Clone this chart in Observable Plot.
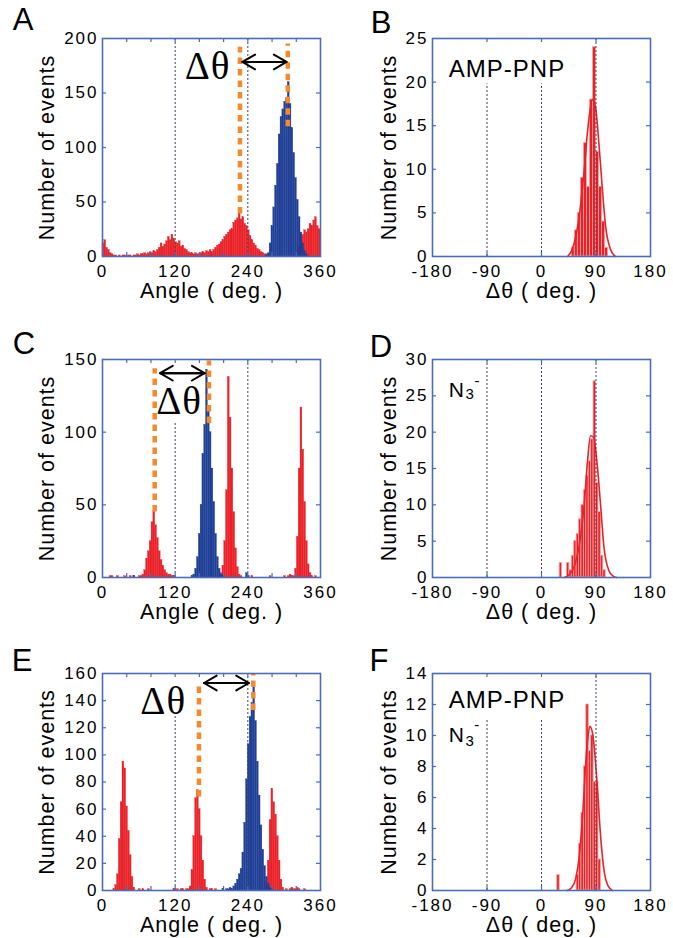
<!DOCTYPE html>
<html><head><meta charset="utf-8">
<script src="https://cdn.jsdelivr.net/npm/d3@7"></script>
<script src="https://cdn.jsdelivr.net/npm/@observablehq/plot@0.6"></script>
<style>
body{margin:0;background:#fff;}
#fig{position:relative;width:673px;height:938px;overflow:hidden;background:#fff;}
#fig > div{position:absolute;}
#fig svg text{letter-spacing:1px;}
#fig svg g[aria-label$="tick label"] text{letter-spacing:2px;}
</style></head><body><div id="fig"></div>
<script>
const RED = "#ea2228", BLUE = "#1f3f97", ORANGE = "#f5892c", FRAME = "#4b6cb7", DOT = "#3b4263";
const SANS = '"Liberation Sans", Arial, Helvetica, sans-serif';
const SERIF = '"Liberation Serif", "Times New Roman", serif';

// ---- angle histograms (3-degree bins, starting at 0) ----
const angleBin = 3;
const angleTicks = [0, 120, 240, 360];
const angleMinor = [40, 80, 120, 160, 200, 240, 280, 320];

const redA = [
 12,15,8,6,3,2,1,1,0,1,
 0,1,1,0,1,1,0,1,1,2,
 1,2,2,3,2,3,4,3,5,4,
 6,8,12,9,11,14,18,15,20,16,
 13,12,14,9,10,7,6,4,3,3,
 2,3,2,2,3,4,3,5,4,6,
 4,6,8,10,11,13,15,18,20,22,
 24,25,31,33,35,44,34,36,30,28,
 24,19,15,12,10,7,6,4,3,2,
 2,1,1,1,0,0,0,0,0,0,
 0,0,0,0,0,0,2,5,10,15,
 20,24,22,25,30,28,33,36,28,25];
const blueA = [
 0,0,0,0,0,0,0,0,0,0, 0,0,0,0,0,0,0,0,0,0, 0,0,0,0,0,0,0,0,0,0,
 0,0,0,0,0,0,0,0,0,0, 0,0,0,0,0,0,0,0,0,0, 0,0,0,0,0,0,0,0,0,0,
 0,0,0,0,0,0,0,0,0,0, 0,0,0,0,0,0,0,0,0,0, 0,0,0,0,0,0,0,0,0,0,
 1,3,12,28,45,65,85,112,128,135,
 142,145,160,140,118,95,72,52,36,22,
 12,5,2,0,0,0,0,0,0,0];

const redC = [
 0,0,0,0,1,1,0,0,1,0,
 0,0,1,0,0,1,0,1,0,0,
 1,1,2,5,13,18,25,38,46,36,
 27,18,12,8,5,3,2,2,1,1,
 0,0,0,0,0,0,0,0,0,0,
 0,0,0,0,0,0,0,0,0,0,
 0,0,0,0,1,3,8,25,60,138,
 110,75,45,20,7,2,1,0,0,0,
 0,0,1,0,0,0,0,0,0,0,
 0,0,1,0,0,0,0,0,0,0,
 1,0,1,2,1,1,6,28,75,117,
 88,52,25,9,3,1,0,1,0,0];
const blueC = [
 0,0,0,0,0,0,0,0,0,0,
 0,0,0,0,0,0,0,1,0,0,
 0,0,0,0,0,0,0,0,0,0,
 0,0,0,0,0,0,0,0,0,0,
 0,0,0,0,0,0,0,0,0,1,
 2,6,14,30,50,85,105,143,118,100,
 75,52,30,14,6,2,1,0,0,0,
 0,0,0,0,0,0,0,0,0,3,
 1,0,0,0,0,0,0,0,0,0,
 0,0,0,0,0,0,0,0,0,0,
 0,0,0,0,0,0,0,0,0,0,
 0,0,0,0,0,0,0,0,0,0];

const redE = [
 0,0,0,0,0,0,1,4,12,38,
 65,95,90,62,44,26,10,2,0,0,
 1,0,1,0,0,1,0,0,0,0,
 0,0,0,0,0,0,0,0,0,1,
 0,1,0,1,1,0,1,1,3,15,
 40,68,74,60,40,22,8,2,0,1,
 1,0,1,0,0,0,0,0,0,0,
 0,0,0,0,0,0,0,0,0,0,
 0,0,0,0,0,0,0,0,0,2,
 6,22,52,75,65,56,40,22,8,2,
 0,1,0,1,2,1,1,2,1,0,
 0,1,0,0,0,0,0,0,0,0];
const blueE = [
 0,0,0,0,0,0,0,0,0,0, 0,0,0,0,0,0,0,0,0,0, 0,0,0,0,0,0,0,0,0,0,
 0,0,0,0,0,0,0,0,0,0, 0,0,0,0,0,0,0,0,0,0, 0,0,0,0,0,0,0,0,0,0,
 0,0,0,0,0,0,1,0,1,1,
 2,1,3,5,8,12,16,28,50,82,
 108,128,138,150,125,95,70,48,30,18,
 10,5,2,1,0,0,0,0,0,0,
 0,0,0,0,0,0,0,0,0,0,
 0,0,0,0,0,0,0,0,0,0];

// ---- delta-theta histograms ----
const deltaTicks = [-180, -90, 0, 90, 180];
const deltaMinor = [-90, 0, 90];
const histBStart = 50, histBBin = 5;
const histB = [1,3,5,9,13,8,18,24,12,8,4,1];
const histDStart = 30, histDBin = 4;
const histD = [2,0,0,2,1,3,5,6,8,10,12,14,16,19,27,13,9,3,1];
const histFStart = 26, histFBin = 4;
const histF = [1,0,0,0,0,0,0,0,1,3,5,8,12,9,10,7,7,2];

// Gaussian fit curves
const fitB = [[43,0],[50,0.7],[55,1.8],[62,4.5],[70,9.5],[77,15],[84,18],[89,17.2],[95,12.8],[100,8.2],[106,3.4],[114,0.8],[122,0]];
const fitD = [[38,0],[46,0.4],[54,1.5],[62,4.3],[70,9.6],[76,16],[81,19.5],[86,19.3],[92,15.5],[98,9.5],[103,4.3],[111,1],[118,0.2],[124,0]];
const fitF = [[42,0],[50,0.2],[56,0.7],[62,2.1],[68,4.9],[73,8.2],[77,10],[80,10.6],[84,10.2],[87,9.3],[92,6.8],[98,3.3],[104,1.1],[110,0.3],[117,0]];

// ---- y ticks ----
const yTicksA = [0,50,100,150,200];
const yTicksB = [0,5,10,15,20,25];
const yTicksC = [0,50,100,150];
const yTicksD = [0,5,10,15,20,25,30];
const yTicksE = [0,20,40,60,80,100,120,140,160];
const yTicksF = [0,2,4,6,8,10,12,14];

// ---- reference lines and annotations ----
const dottedA = [{x:120, top:200}, {x:240, top:200}];
const dottedC = [{x:120, top:106}, {x:240, top:150}];
const dottedE = [{x:120, top:129}, {x:240, top:160}];
const dottedB = [{x:-90, top:19.8}, {x:0, top:19.8}, {x:90, top:25}];
const dottedD = [{x:-90, top:30}, {x:0, top:30}, {x:90, top:30}];
const dottedF = [{x:-90, top:11.1}, {x:0, top:11.1}, {x:90, top:14}];

const orangeA = [{x:227, y1:39, y2:192}, {x:306, y1:119, y2:195}];
const orangeC = [{x:86.2, y1:45, y2:143.6}, {x:175.8, y1:106, y2:149}];
const orangeE = [{x:159.3, y1:69, y2:153.6}, {x:249, y1:132.7, y2:159.8}];
const arrowA = [{x1:231, x2:304, y:178.5}];
const arrowC = [{x1:95, x2:168.7, y:140.6}];
const arrowE = [{x1:167.6, x2:241.8, y:153}];

const labelsA = [{x:173.6, y:163, t:"Δθ", size:39, serif:true, anchor:"middle"}];
const labelsC = [{x:126.4, y:112.6, t:"Δθ", size:39, serif:true, anchor:"middle"}];
const labelsE = [{x:100.3, y:130.3, t:"Δθ", size:39, serif:true, anchor:"middle"}];
const labelsB = [{x:-153, y:20.56, t:"AMP-PNP", size:24, anchor:"start"}];
const labelsD = [
  {x:-153, y:24.9, t:"N", size:21, anchor:"start"},
  {x:-125.3, y:24.6, t:"3", size:15, anchor:"start"},
  {x:-110.5, y:26.3, t:"-", size:15, anchor:"start"}];
const labelsF = [
  {x:-153, y:11.79, t:"AMP-PNP", size:24, anchor:"start"},
  {x:-153, y:9.57, t:"N", size:21, anchor:"start"},
  {x:-125.3, y:9.35, t:"3", size:15, anchor:"start"},
  {x:-111, y:10.35, t:"-", size:15, anchor:"start"}];

function histRows(start, bin, counts) {
  return counts.map((c, i) => ({x1: start + i * bin, x2: start + (i + 1) * bin, y: c})).filter(d => d.y > 0);
}

function build(p) {
  const innerW = p.w - p.ml - p.mr;
  const innerH = p.h - p.mt - p.mb;
  const marks = [];
  p.hists.forEach(h => marks.push(Plot.rectY(histRows(h.start, h.bin, h.counts),
    {x1: "x1", x2: "x2", y: "y", fill: h.fill, stroke: h.stroke, strokeWidth: h.sw})));
  if (p.curve) marks.push(Plot.line(p.curve, {x: d => d[0], y: d => d[1], stroke: RED, strokeWidth: 1.6, curve: "monotone-x"}));
  marks.push(Plot.ruleX(p.dotted, {x: "x", y1: 0, y2: "top", stroke: DOT, strokeWidth: 1, strokeDasharray: "2,2"}));
  if (p.orange) marks.push(Plot.ruleX(p.orange, {x: "x", y1: "y1", y2: "y2", stroke: ORANGE, strokeWidth: 4.5, strokeDasharray: "6.5,5"}));
  if (p.arrow) {
    marks.push(Plot.arrow(p.arrow, {x1: "x1", x2: "x2", y1: "y", y2: "y", stroke: "black", strokeWidth: 2, headLength: 11}));
    marks.push(Plot.arrow(p.arrow, {x1: "x2", x2: "x1", y1: "y", y2: "y", stroke: "black", strokeWidth: 2, headLength: 11}));
  }
  p.labels.forEach(L => marks.push(Plot.text([L], {x: "x", y: "y", text: "t", fontSize: L.size,
    fontFamily: L.serif ? SERIF : SANS, textAnchor: L.anchor, lineAnchor: "bottom", fill: "black"})));
  marks.push(Plot.frame({stroke: FRAME, strokeWidth: 1.6}));
  const tk = {stroke: FRAME, strokeWidth: 1.2};
  marks.push(Plot.tickX(p.xMinor, {x: d => d, ...tk, insetTop: innerH - 4}));
  marks.push(Plot.tickX(p.xMinor, {x: d => d, ...tk, insetBottom: innerH - 4}));
  marks.push(Plot.tickY(p.yMinor, {y: d => d, ...tk, insetRight: innerW - 4}));
  marks.push(Plot.tickY(p.yMinor, {y: d => d, ...tk, insetLeft: innerW - 4}));
  marks.push(Plot.axisX(p.xTicks, {tickSize: 0, tickPadding: 8, fontSize: 17, label: null, tickFormat: d => String(d)}));
  marks.push(Plot.axisY(p.yTicks, {tickSize: 0, tickPadding: 4, fontSize: 17, label: null, tickFormat: d => String(d)}));
  marks.push(Plot.text([p.xLabel], {text: d => d, frameAnchor: "bottom", dy: 35, fontSize: 21.5, textAnchor: "middle", lineAnchor: "middle"}));
  marks.push(Plot.text([p.yLabel], {text: d => d, frameAnchor: "left", dx: p.yLabelDx, rotate: -90, fontSize: 21.5, textAnchor: "middle", lineAnchor: "middle"}));
  marks.push(Plot.text([p.letter], {text: d => d, frameAnchor: "top-left", dx: p.letterDx, dy: p.letterDy, fontSize: 31, textAnchor: "middle", lineAnchor: "middle"}));
  const svg = Plot.plot({
    width: p.w, height: p.h,
    marginTop: p.mt, marginRight: p.mr, marginBottom: p.mb, marginLeft: p.ml,
    x: {domain: p.xDomain, label: null},
    y: {domain: p.yDomain, label: null},
    style: {fontFamily: SANS, fontSize: "17px", background: "transparent", color: "black", overflow: "visible"},
    marks
  });
  const div = document.createElement("div");
  div.style.left = p.left + "px";
  div.style.top = p.top + "px";
  div.appendChild(svg);
  document.getElementById("fig").appendChild(div);
}

const redStyle = {fill: RED, stroke: RED, sw: 0.3};
const blueStyle = {fill: BLUE, stroke: BLUE, sw: 0.3};
const barStyle = {fill: RED, stroke: "#f6a3a3", sw: 0.8};

const leftBase = {w: 330, ml: 102, mr: 10, xDomain: [0, 360], xTicks: angleTicks, xMinor: angleMinor,
  xLabel: "Angle ( deg. )", yLabel: "Number of events", yLabelDx: -55};
const rightBase = {w: 343, ml: 102, mr: 23, xDomain: [-180, 180], xTicks: deltaTicks, xMinor: deltaMinor,
  xLabel: "Δθ ( deg. )", yLabel: "Number of events", yLabelDx: -43};

build({...leftBase, left: 0, top: 0, h: 315, mt: 38, mb: 59, yDomain: [0, 200], yTicks: yTicksA,
  yMinor: yTicksA.slice(1, -1), letter: "A", letterDx: -79, letterDy: -18,
  hists: [{start: 0, bin: angleBin, counts: redA, ...redStyle}, {start: 0, bin: angleBin, counts: blueA, ...blueStyle}],
  dotted: dottedA, orange: orangeA, arrow: arrowA, labels: labelsA});
build({...rightBase, left: 330, top: 0, h: 315, mt: 38, mb: 59, yDomain: [0, 25], yTicks: yTicksB,
  yMinor: yTicksB.slice(1, -1), letter: "B", letterDx: -51, letterDy: -15,
  hists: [{start: histBStart, bin: histBBin, counts: histB, ...barStyle}], curve: fitB,
  dotted: dottedB, labels: labelsB});
build({...leftBase, left: 0, top: 315, h: 315, mt: 44, mb: 53, yDomain: [0, 150], yTicks: yTicksC,
  yMinor: yTicksC.slice(1, -1), letter: "C", letterDx: -78, letterDy: -15,
  hists: [{start: 0, bin: angleBin, counts: redC, ...redStyle}, {start: 0, bin: angleBin, counts: blueC, ...blueStyle}],
  dotted: dottedC, orange: orangeC, arrow: arrowC, labels: labelsC});
build({...rightBase, left: 330, top: 315, h: 315, mt: 44, mb: 53, yDomain: [0, 30], yTicks: yTicksD,
  yMinor: yTicksD.slice(1, -1), letter: "D", letterDx: -51, letterDy: -12,
  hists: [{start: histDStart, bin: histDBin, counts: histD, ...barStyle}], curve: fitD,
  dotted: dottedD, labels: labelsD});
build({...leftBase, left: 0, top: 630, h: 308, mt: 43, mb: 48, yDomain: [0, 160], yTicks: yTicksE,
  yMinor: yTicksE.slice(1, -1), letter: "E", letterDx: -80, letterDy: -12,
  hists: [{start: 0, bin: angleBin, counts: redE, ...redStyle}, {start: 0, bin: angleBin, counts: blueE, ...blueStyle}],
  dotted: dottedE, orange: orangeE, arrow: arrowE, labels: labelsE});
build({...rightBase, left: 330, top: 630, h: 308, mt: 43, mb: 48, yDomain: [0, 14], yTicks: yTicksF,
  yMinor: yTicksF.slice(1, -1), letter: "F", letterDx: -53, letterDy: -12,
  hists: [{start: histFStart, bin: histFBin, counts: histF, ...barStyle}], curve: fitF,
  dotted: dottedF, labels: labelsF});
</script></body></html>
